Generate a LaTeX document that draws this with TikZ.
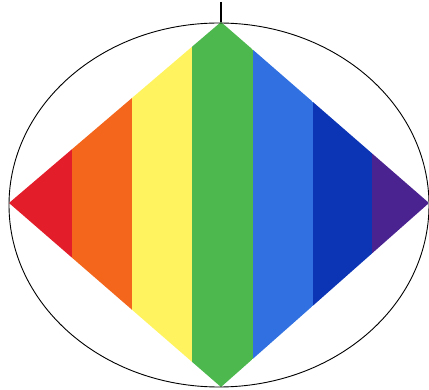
\documentclass[tikz,border=0pt]{standalone}
\begin{document}
\begin{tikzpicture}[x=1pt,y=-1pt,
  outline/.style={draw=black,line width=0.9pt},
  tick/.style={draw=black,line width=2pt}]
\definecolor{cRed}{HTML}{E31E2A}
\definecolor{cOrange}{HTML}{F4661C}
\definecolor{cYellow}{HTML}{FFF460}
\definecolor{cGreen}{HTML}{4DB84E}
\definecolor{cBlue}{HTML}{3070E0}
\definecolor{cDark}{HTML}{0B35B5}
\definecolor{cPurple}{HTML}{4B2390}
\useasboundingbox (0,0) rectangle (429,390);
\coordinate (L) at (9,203);
\coordinate (T) at (221,22);
\coordinate (R) at (429,203);
\coordinate (B) at (221,387);
\coordinate (top) at (221,2);
\begin{scope}
  \clip (L) -- (T) -- (R) -- (B) -- cycle;
  \fill[cRed] (0,0) rectangle (72,390);
  \fill[cOrange] (72,0) rectangle (132,390);
  \fill[cYellow] (132,0) rectangle (192,390);
  \fill[cGreen] (192,0) rectangle (253,390);
  \fill[cBlue] (253,0) rectangle (313,390);
  \fill[cDark] (313,0) rectangle (372,390);
  \fill[cPurple] (372,0) rectangle (430,390);
\end{scope}
\draw[outline] (219,205) ellipse [x radius=210, y radius=182];
\draw[tick] (top) -- (T);
\end{tikzpicture}
\end{document}
